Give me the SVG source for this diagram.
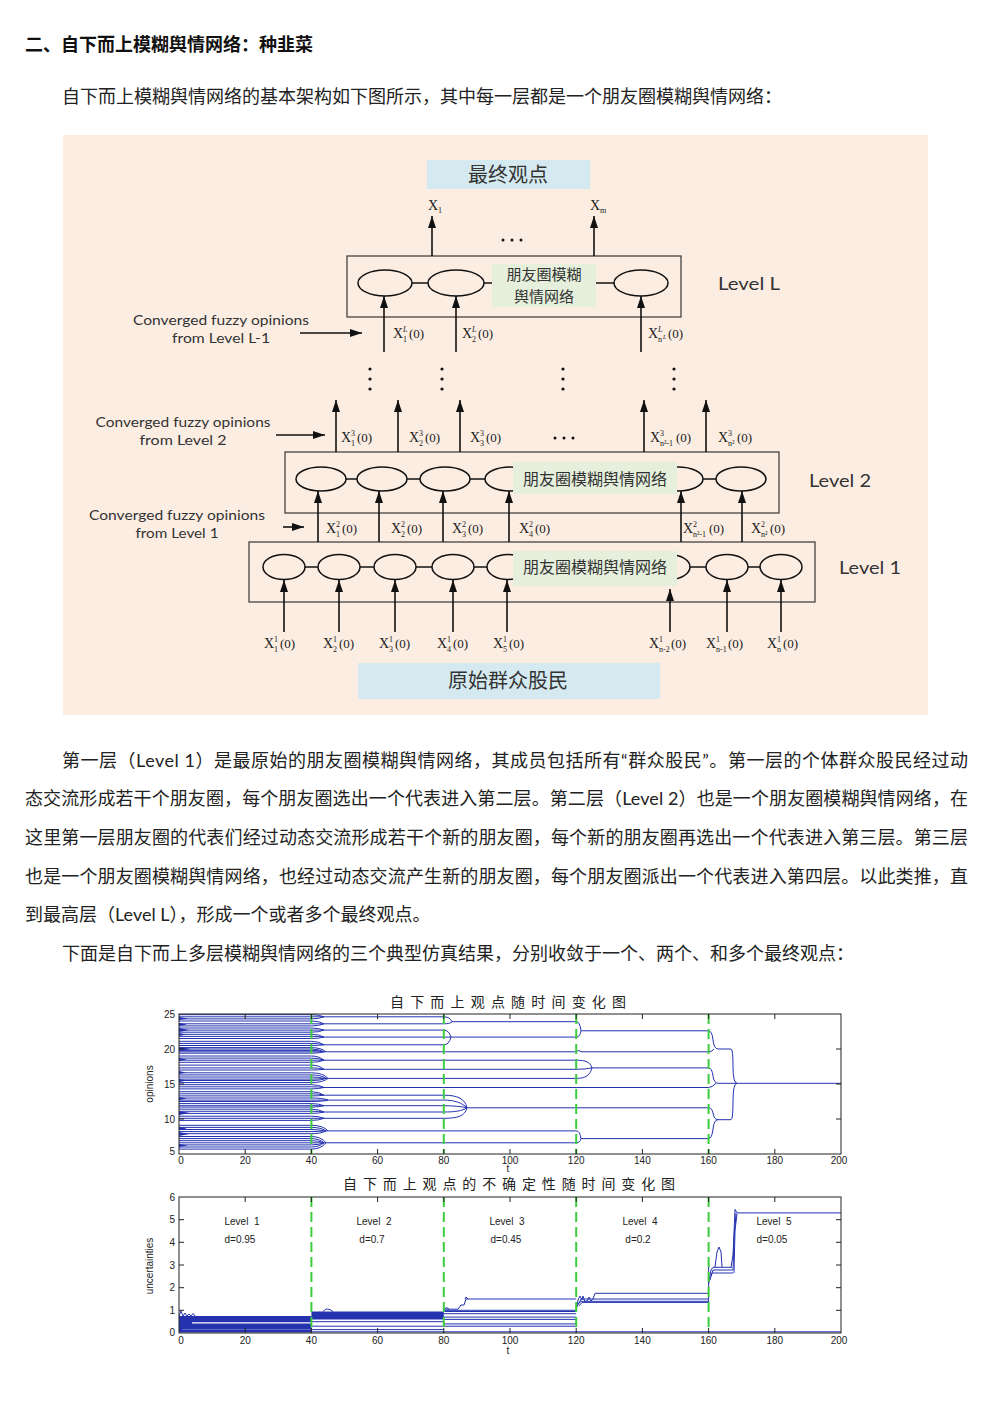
<svg xmlns="http://www.w3.org/2000/svg" width="992" height="1403" viewBox="0 0 992 1403">
<defs>
<style>
.body{font-family:"Lato","Noto Sans CJK SC",sans-serif;font-size:18px;fill:#222}
.title{font-family:"Lato","Noto Sans CJK SC",sans-serif;font-size:18px;font-weight:bold;fill:#111}
.cjk{font-family:"Noto Sans CJK SC",sans-serif;fill:#333}
.lat{font-family:"Lato","Liberation Sans",sans-serif;fill:#333}
.lbl{font-family:"Liberation Serif",serif;fill:#222;font-size:13px}
.lbl .x{font-size:14px}
.lbl .s{font-size:8px}
.lbl .t{font-size:6px}
.box{fill:none;stroke:#444;stroke-width:1.3}
.ell{fill:none;stroke:#111;stroke-width:1.5}
.con{stroke:#111;stroke-width:1.5;fill:none}
.arr{stroke:#111;stroke-width:1.6;fill:none;marker-end:url(#ah)}
.blue{fill:#d5eaf0}
.green{fill:#e5efdc}
.tick{font-family:"Liberation Sans",sans-serif;font-size:10px;fill:#222}
.frame{fill:none;stroke:#222;stroke-width:1}
.tk{stroke:#222;stroke-width:1}
.pl{fill:none;stroke:#2432b0;stroke-width:1}
.gd{stroke:#3ccc3c;stroke-width:2;stroke-dasharray:10,5}
.ctitle{font-family:"Noto Sans CJK SC",sans-serif;font-size:14px;fill:#222}
.lv{font-family:"Liberation Sans",sans-serif;font-size:10px;fill:#222}
</style>
<marker id="ah" viewBox="0 0 12 8" refX="12" refY="4" markerWidth="12" markerHeight="8" markerUnits="userSpaceOnUse" orient="auto">
<path d="M0,0 L12,4 L0,8 z" fill="#111"/>
</marker>
</defs>
<rect x="0" y="0" width="992" height="1403" fill="#ffffff"/>

<!-- Heading and intro -->
<text class="title" x="25" y="51">二、自下而上模糊舆情网络：种韭菜</text>
<text class="body" x="62" y="103">自下而上模糊舆情网络的基本架构如下图所示，其中每一层都是一个朋友圈模糊舆情网络：</text>

<!-- Diagram background -->
<rect x="63" y="135" width="865" height="580" fill="#fcede3"/>

<!-- Final box -->
<g id="final-box">
<rect class="blue" x="427" y="160" width="163" height="29"/>
<text class="cjk" x="508" y="182" font-size="20" text-anchor="middle">最终观点</text>
</g>

<!-- Level L -->
<g id="level-L">
<rect class="box" x="347" y="256" width="334" height="61"/>
<ellipse class="ell" cx="385" cy="283" rx="27" ry="13"/>
<ellipse class="ell" cx="456" cy="283" rx="28" ry="13"/>
<ellipse class="ell" cx="641" cy="283" rx="27" ry="13"/>
<line class="con" x1="412" y1="283" x2="428" y2="283"/>
<line class="con" x1="484" y1="283" x2="492" y2="283"/>
<line class="con" x1="596" y1="283" x2="614" y2="283"/>
<rect class="green" x="492" y="264" width="104" height="43"/>
<text class="cjk" x="544" y="280" font-size="15" text-anchor="middle">朋友圈模糊</text>
<text class="cjk" x="544" y="302" font-size="15" text-anchor="middle">舆情网络</text>
<text class="lat" x="718" y="290" font-size="18" textLength="62" lengthAdjust="spacingAndGlyphs">Level L</text>
</g>

<!-- Level 2 -->
<g id="level-2">
<rect class="box" x="285" y="452" width="494" height="61"/>
<ellipse class="ell" cx="321" cy="479" rx="25" ry="12"/>
<ellipse class="ell" cx="382" cy="479" rx="25" ry="12"/>
<ellipse class="ell" cx="445" cy="479" rx="25" ry="12"/>
<ellipse class="ell" cx="510" cy="479" rx="25" ry="12"/>
<ellipse class="ell" cx="678" cy="479" rx="25" ry="12"/>
<ellipse class="ell" cx="741" cy="479" rx="25" ry="12"/>
<line class="con" x1="346" y1="479" x2="357" y2="479"/>
<line class="con" x1="407" y1="479" x2="420" y2="479"/>
<line class="con" x1="470" y1="479" x2="485" y2="479"/>
<line class="con" x1="703" y1="479" x2="716" y2="479"/>
<rect class="green" x="513" y="462" width="164" height="32"/>
<text class="cjk" x="595" y="485" font-size="16" text-anchor="middle">朋友圈模糊舆情网络</text>
<text class="lat" x="809" y="487" font-size="18" textLength="62" lengthAdjust="spacingAndGlyphs">Level 2</text>
</g>

<!-- Level 1 -->
<g id="level-1">
<rect class="box" x="249" y="542" width="566" height="60"/>
<ellipse class="ell" cx="284" cy="567" rx="21" ry="12.5"/>
<ellipse class="ell" cx="339" cy="567" rx="21" ry="12.5"/>
<ellipse class="ell" cx="395" cy="567" rx="21" ry="12.5"/>
<ellipse class="ell" cx="453" cy="567" rx="21" ry="12.5"/>
<ellipse class="ell" cx="508" cy="567" rx="21" ry="12.5"/>
<ellipse class="ell" cx="669" cy="567" rx="21" ry="12.5"/>
<ellipse class="ell" cx="727" cy="567" rx="21" ry="12.5"/>
<ellipse class="ell" cx="781" cy="567" rx="21" ry="12.5"/>
<line class="con" x1="305" y1="567" x2="318" y2="567"/>
<line class="con" x1="360" y1="567" x2="374" y2="567"/>
<line class="con" x1="416" y1="567" x2="432" y2="567"/>
<line class="con" x1="474" y1="567" x2="487" y2="567"/>
<line class="con" x1="690" y1="567" x2="706" y2="567"/>
<line class="con" x1="748" y1="567" x2="760" y2="567"/>
<rect class="green" x="513" y="551" width="164" height="35"/>
<text class="cjk" x="595" y="573" font-size="16" text-anchor="middle">朋友圈模糊舆情网络</text>
<text class="lat" x="839" y="574" font-size="18" textLength="62" lengthAdjust="spacingAndGlyphs">Level 1</text>
</g>

<!-- Source box -->
<g id="source-box">
<rect class="blue" x="358" y="663" width="302" height="36"/>
<text class="cjk" x="508" y="688" font-size="20" text-anchor="middle">原始群众股民</text>
</g>

<!-- Side notes -->
<g id="notes">
<text class="lat" x="221" y="325" font-size="14" text-anchor="middle" textLength="176" lengthAdjust="spacingAndGlyphs">Converged fuzzy opinions</text>
<text class="lat" x="221" y="343" font-size="14" text-anchor="middle" textLength="98" lengthAdjust="spacingAndGlyphs">from Level L-1</text>
<text class="lat" x="183" y="427" font-size="14" text-anchor="middle" textLength="175" lengthAdjust="spacingAndGlyphs">Converged fuzzy opinions</text>
<text class="lat" x="183" y="445" font-size="14" text-anchor="middle" textLength="87" lengthAdjust="spacingAndGlyphs">from Level 2</text>
<text class="lat" x="177" y="520" font-size="14" text-anchor="middle" textLength="176" lengthAdjust="spacingAndGlyphs">Converged fuzzy opinions</text>
<text class="lat" x="177" y="538" font-size="14" text-anchor="middle" textLength="83" lengthAdjust="spacingAndGlyphs">from Level 1</text>
</g>

<!-- Connectors -->
<g id="connectors">
<line class="arr" x1="432" y1="256" x2="432" y2="216"/>
<line class="arr" x1="594" y1="256" x2="594" y2="216"/>
<line class="arr" x1="384" y1="352" x2="384" y2="296"/>
<line class="arr" x1="456" y1="352" x2="456" y2="296"/>
<line class="arr" x1="641" y1="352" x2="641" y2="296"/>
<line class="arr" x1="300" y1="333" x2="362" y2="333"/>
<line class="arr" x1="336" y1="452" x2="336" y2="400"/>
<line class="arr" x1="398" y1="452" x2="398" y2="400"/>
<line class="arr" x1="460" y1="452" x2="460" y2="400"/>
<line class="arr" x1="644" y1="452" x2="644" y2="400"/>
<line class="arr" x1="706" y1="452" x2="706" y2="400"/>
<line class="arr" x1="276" y1="435" x2="325" y2="435"/>
<line class="arr" x1="318" y1="542" x2="318" y2="491"/>
<line class="arr" x1="379" y1="542" x2="379" y2="491"/>
<line class="arr" x1="443" y1="542" x2="443" y2="491"/>
<line class="arr" x1="509" y1="542" x2="509" y2="491"/>
<line class="arr" x1="681" y1="542" x2="681" y2="491"/>
<line class="arr" x1="742" y1="542" x2="742" y2="491"/>
<line class="arr" x1="283" y1="527" x2="304" y2="527"/>
<line class="arr" x1="284" y1="632" x2="284" y2="580"/>
<line class="arr" x1="339" y1="632" x2="339" y2="580"/>
<line class="arr" x1="395" y1="632" x2="395" y2="580"/>
<line class="arr" x1="453" y1="632" x2="453" y2="580"/>
<line class="arr" x1="507" y1="632" x2="507" y2="580"/>
<line class="arr" x1="670" y1="632" x2="670" y2="589"/>
<line class="arr" x1="727" y1="632" x2="727" y2="580"/>
<line class="arr" x1="781" y1="632" x2="781" y2="580"/>
</g>

<!-- Dots -->
<g id="dots" fill="#111">
<circle cx="370" cy="369" r="1.6"/><circle cx="370" cy="379" r="1.6"/><circle cx="370" cy="389" r="1.6"/>
<circle cx="442" cy="369" r="1.6"/><circle cx="442" cy="379" r="1.6"/><circle cx="442" cy="389" r="1.6"/>
<circle cx="563" cy="369" r="1.6"/><circle cx="563" cy="379" r="1.6"/><circle cx="563" cy="389" r="1.6"/>
<circle cx="674" cy="369" r="1.6"/><circle cx="674" cy="379" r="1.6"/><circle cx="674" cy="389" r="1.6"/>
<circle cx="503" cy="240" r="1.5"/><circle cx="512" cy="240" r="1.5"/><circle cx="521" cy="240" r="1.5"/>
<circle cx="555" cy="438" r="1.5"/><circle cx="564" cy="438" r="1.5"/><circle cx="573" cy="438" r="1.5"/>
</g>

<!-- Variable labels -->
<g id="labels">
<text class="lbl" x="428" y="210"><tspan class="x">X</tspan><tspan class="s" x="438" dy="3">1</tspan></text>
<text class="lbl" x="590" y="210"><tspan class="x">X</tspan><tspan class="s" x="600" dy="3">m</tspan></text>

<text class="lbl" x="393" y="338"><tspan class="x">X</tspan><tspan class="s" x="403" dy="-6" font-style="italic">L</tspan><tspan class="s" x="403" dy="10">1</tspan><tspan x="409" dy="-4">(0)</tspan></text>
<text class="lbl" x="462" y="338"><tspan class="x">X</tspan><tspan class="s" x="472" dy="-6" font-style="italic">L</tspan><tspan class="s" x="472" dy="10">2</tspan><tspan x="478" dy="-4">(0)</tspan></text>
<text class="lbl" x="648" y="338"><tspan class="x">X</tspan><tspan class="s" x="658" dy="-6" font-style="italic">L</tspan><tspan class="s" x="658" dy="10">n</tspan><tspan class="t" x="663" dy="-3" font-style="italic">L</tspan><tspan x="668" dy="-1">(0)</tspan></text>

<text class="lbl" x="341" y="442"><tspan class="x">X</tspan><tspan class="s" x="351" dy="-6">3</tspan><tspan class="s" x="351" dy="10">1</tspan><tspan x="357" dy="-4">(0)</tspan></text>
<text class="lbl" x="409" y="442"><tspan class="x">X</tspan><tspan class="s" x="419" dy="-6">3</tspan><tspan class="s" x="419" dy="10">2</tspan><tspan x="425" dy="-4">(0)</tspan></text>
<text class="lbl" x="470" y="442"><tspan class="x">X</tspan><tspan class="s" x="480" dy="-6">3</tspan><tspan class="s" x="480" dy="10">3</tspan><tspan x="486" dy="-4">(0)</tspan></text>
<text class="lbl" x="650" y="442"><tspan class="x">X</tspan><tspan class="s" x="660" dy="-6">3</tspan><tspan class="s" x="660" dy="10">n²-1</tspan><tspan x="676" dy="-4">(0)</tspan></text>
<text class="lbl" x="718" y="442"><tspan class="x">X</tspan><tspan class="s" x="728" dy="-6">3</tspan><tspan class="s" x="728" dy="10">n²</tspan><tspan x="737" dy="-4">(0)</tspan></text>

<text class="lbl" x="326" y="533"><tspan class="x">X</tspan><tspan class="s" x="336" dy="-6">2</tspan><tspan class="s" x="336" dy="10">1</tspan><tspan x="342" dy="-4">(0)</tspan></text>
<text class="lbl" x="391" y="533"><tspan class="x">X</tspan><tspan class="s" x="401" dy="-6">2</tspan><tspan class="s" x="401" dy="10">2</tspan><tspan x="407" dy="-4">(0)</tspan></text>
<text class="lbl" x="452" y="533"><tspan class="x">X</tspan><tspan class="s" x="462" dy="-6">2</tspan><tspan class="s" x="462" dy="10">3</tspan><tspan x="468" dy="-4">(0)</tspan></text>
<text class="lbl" x="519" y="533"><tspan class="x">X</tspan><tspan class="s" x="529" dy="-6">2</tspan><tspan class="s" x="529" dy="10">4</tspan><tspan x="535" dy="-4">(0)</tspan></text>
<text class="lbl" x="683" y="533"><tspan class="x">X</tspan><tspan class="s" x="693" dy="-6">2</tspan><tspan class="s" x="693" dy="10">n²-1</tspan><tspan x="709" dy="-4">(0)</tspan></text>
<text class="lbl" x="751" y="533"><tspan class="x">X</tspan><tspan class="s" x="761" dy="-6">2</tspan><tspan class="s" x="761" dy="10">n²</tspan><tspan x="770" dy="-4">(0)</tspan></text>

<text class="lbl" x="264" y="648"><tspan class="x">X</tspan><tspan class="s" x="274" dy="-6">1</tspan><tspan class="s" x="274" dy="10">1</tspan><tspan x="280" dy="-4">(0)</tspan></text>
<text class="lbl" x="323" y="648"><tspan class="x">X</tspan><tspan class="s" x="333" dy="-6">1</tspan><tspan class="s" x="333" dy="10">2</tspan><tspan x="339" dy="-4">(0)</tspan></text>
<text class="lbl" x="379" y="648"><tspan class="x">X</tspan><tspan class="s" x="389" dy="-6">1</tspan><tspan class="s" x="389" dy="10">3</tspan><tspan x="395" dy="-4">(0)</tspan></text>
<text class="lbl" x="437" y="648"><tspan class="x">X</tspan><tspan class="s" x="447" dy="-6">1</tspan><tspan class="s" x="447" dy="10">4</tspan><tspan x="453" dy="-4">(0)</tspan></text>
<text class="lbl" x="493" y="648"><tspan class="x">X</tspan><tspan class="s" x="503" dy="-6">1</tspan><tspan class="s" x="503" dy="10">5</tspan><tspan x="509" dy="-4">(0)</tspan></text>
<text class="lbl" x="649" y="648"><tspan class="x">X</tspan><tspan class="s" x="659" dy="-6">1</tspan><tspan class="s" x="659" dy="10">n-2</tspan><tspan x="671" dy="-4">(0)</tspan></text>
<text class="lbl" x="706" y="648"><tspan class="x">X</tspan><tspan class="s" x="716" dy="-6">1</tspan><tspan class="s" x="716" dy="10">n-1</tspan><tspan x="728" dy="-4">(0)</tspan></text>
<text class="lbl" x="767" y="648"><tspan class="x">X</tspan><tspan class="s" x="777" dy="-6">1</tspan><tspan class="s" x="777" dy="10">n</tspan><tspan x="783" dy="-4">(0)</tspan></text>
</g>

<!-- Paragraphs -->
<text class="body" x="62" y="767" textLength="906" lengthAdjust="spacing">第一层（Level 1）是最原始的朋友圈模糊舆情网络，其成员包括所有“群众股民”。第一层的个体群众股民经过动</text>
<text class="body" x="25" y="805" textLength="943" lengthAdjust="spacing">态交流形成若干个朋友圈，每个朋友圈选出一个代表进入第二层。第二层（Level 2）也是一个朋友圈模糊舆情网络，在</text>
<text class="body" x="25" y="844" textLength="943" lengthAdjust="spacing">这里第一层朋友圈的代表们经过动态交流形成若干个新的朋友圈，每个新的朋友圈再选出一个代表进入第三层。第三层</text>
<text class="body" x="25" y="883" textLength="943" lengthAdjust="spacing">也是一个朋友圈模糊舆情网络，也经过动态交流产生新的朋友圈，每个朋友圈派出一个代表进入第四层。以此类推，直</text>
<text class="body" x="25" y="921">到最高层（Level L），形成一个或者多个最终观点。</text>
<text class="body" x="62" y="960">下面是自下而上多层模糊舆情网络的三个典型仿真结果，分别收敛于一个、两个、和多个最终观点：</text>

<!-- Chart 1 -->
<g id="chart-opinions">
<text class="ctitle" x="390" y="1007" textLength="236" lengthAdjust="spacing">自下而上观点随时间变化图</text>
<g class="pl">
<path d="M179,1014.7H311.4Q319,1014.7 324,1016.8M179,1016.8H324M179,1018.9H311.4Q319,1018.9 324,1016.8
M179,1021H311.4Q319,1021 324,1023.8M179,1023.8H324M179,1025.9H311.4Q319,1025.9 324,1023.8
M179,1028H311.4Q319,1028 324,1030.1M179,1030.1H324M179,1032.2H311.4Q319,1032.2 324,1030.1
M179,1034.3H311.4Q319,1034.3 324,1037.1M179,1036.4H311.4Q319,1036.4 324,1037.1M179,1038.5H311.4Q319,1038.5 324,1037.1
M179,1041.3H311.4Q319,1041.3 324,1044.8M179,1043.4H311.4Q319,1043.4 324,1044.8M179,1045.5H311.4Q319,1045.5 324,1044.8
M179,1047.6H311.4Q321,1047.6 326,1051.8M179,1049H311.4Q319,1049 324,1051.8M179,1050.4H311.4Q319,1050.4 324,1051.8M179,1051.8H324M179,1053.2H311.4Q319,1053.2 324,1051.8
M179,1056H311.4Q319,1056 324,1060.2M179,1058.1H311.4Q319,1058.1 324,1060.2M179,1060.2H324M179,1062.3H311.4Q319,1062.3 324,1060.2
M179,1065.1H311.4Q319,1065.1 324,1069.3M179,1067.9H311.4Q319,1067.9 324,1069.3M179,1070H311.4Q319,1070 324,1069.3
M179,1072.8H311.4Q323,1072.8 328,1078.4M179,1074.9H311.4Q321,1074.9 326,1078.4M179,1077H311.4Q319,1077 324,1078.4M179,1079.1H311.4Q319,1079.1 324,1078.4M179,1080.5H311.4Q321,1080.5 326,1078.4M179,1082.6H311.4Q323,1082.6 328,1078.4
M179,1084.7H311.4Q319,1084.7 324,1087.5M179,1086.8H311.4Q319,1086.8 324,1087.5M179,1088.9H311.4Q319,1088.9 324,1087.5
M179,1091.7H311.4Q319,1091.7 324,1095.2M179,1093.8H311.4Q319,1093.8 324,1095.2M179,1095.9H311.4Q319,1095.9 324,1095.2
M179,1098H311.4Q323,1098 328,1100.1M179,1100.1H324M179,1101.5H311.4Q323,1101.5 328,1100.1
M179,1103.6H311.4Q319,1103.6 324,1105.7M179,1105.7H324M179,1107.1H311.4Q319,1107.1 324,1105.7
M179,1109.2H311.4Q319,1109.2 324,1112M179,1111.3H311.4Q319,1111.3 324,1112M179,1113.4H311.4Q319,1113.4 324,1112
M179,1116.2H311.4Q319,1116.2 324,1118.3M179,1118.3H324M179,1120.4H311.4Q319,1120.4 324,1118.3
M179,1125.3H311.4Q323,1125.3 328,1130.9M179,1127.4H311.4Q321,1127.4 326,1130.9M179,1129.5H311.4Q319,1129.5 324,1130.9M179,1131.6H311.4Q319,1131.6 324,1130.9M179,1133.7H311.4Q321,1133.7 326,1130.9
M179,1136.5H311.4Q321,1136.5 326,1142.8M179,1138.6H311.4Q319,1138.6 324,1142.8M179,1140.7H311.4Q319,1140.7 324,1142.8M179,1142.8H324M179,1144.9H311.4Q319,1144.9 324,1142.8M179,1147H311.4Q319,1147 324,1142.8M179,1149.1H311.4Q321,1149.1 326,1142.8"/>
<path d="M324,1016.8H443.8M324,1023.8H443.8M324,1030.1H443.8M324,1037.1H443.8M324,1044.8H443.8M324,1051.8H443.8M324,1060.2H443.8M324,1069.3H443.8M324,1078.4H443.8M324,1087.5H443.8M324,1095.2H443.8M324,1100.1H443.8M324,1105.7H443.8M324,1112H443.8M324,1118.3H443.8M324,1130.9H443.8M324,1142.8H443.8"/>
<path d="M443.8,1016.8Q450,1016.8 452,1021.7M443.8,1023.8Q450,1023.8 452,1021.7M452,1021.7H576.2
M443.8,1030.1Q449,1030.1 451,1037.1M443.8,1044.8Q449,1044.8 451,1037.1M443.8,1037.1H576.2
M443.8,1051.8H576.2M443.8,1060.2H576.2M443.8,1069.3H576.2M443.8,1078.4H576.2M443.8,1087.5H576.2
M443.8,1095.2C458,1095.2 465,1099 467,1107.8M443.8,1118.3C458,1118.3 465,1116 467,1107.8M443.8,1100.1C455,1100.1 462,1103 467,1107.8M443.8,1105.7Q458,1105.7 467,1107.8M443.8,1112C455,1112 462,1111 467,1107.8M467,1107.8H576.2
M443.8,1130.9H576.2M443.8,1142.8H576.2"/>
<path d="M576.2,1021.7Q580,1021.7 581,1030.8M576.2,1037.1Q580,1037.1 581,1030.8M581,1030.8H708.6
M576.2,1051.8Q579,1049 581,1051.8H708.6
M576.2,1060.2C586,1060.2 590,1062 592,1067.9M576.2,1078.4C586,1078.4 590,1075 592,1067.9M576.2,1069.3Q586,1069.3 592,1067.9M592,1067.9H708.6
M576.2,1087.5H708.6M576.2,1107.8H708.6
M576.2,1130.9Q580,1130.9 581,1138.6M576.2,1142.8Q580,1142.8 581,1138.6M581,1138.6H708.6"/>
<path d="M708.6,1030.8Q712,1030.8 713,1040Q714,1049 718,1049H731Q733,1049 733,1066Q733,1083.3 737,1083.3H841
M708.6,1051.8Q712,1051.8 714,1049
M708.6,1067.9Q712,1067.9 713,1076Q714,1083.3 718,1083.3H737
M708.6,1087.5Q712,1087.5 716,1083.3
M708.6,1107.8Q712,1107.8 713,1113Q714,1119.7 718,1119.7H731Q733,1119.7 733,1101Q733,1083.3 737,1083.3
M708.6,1138.6Q712,1138.6 713,1129Q714,1119.7 718,1119.7"/>
</g>
<g fill="#2432b0">
<path d="M179,1017l9,1.5l-9,1.5z M179,1023l8,1.5l-8,1.5z M179,1028l10,2l-10,2z M179,1033l7,1.5l-7,1.5z M179,1047l12,2l-12,2z M179,1058l8,1.5l-8,1.5z M179,1071l7,1.5l-7,1.5z M179,1079l9,1.5l-9,1.5z M179,1097l8,1.5l-8,1.5z M179,1111l11,2l-11,2z M179,1127l8,1.5l-8,1.5z M179,1132l10,2l-10,2z M179,1144l9,1.5l-9,1.5z"/>
</g>
<g>
<line class="gd" x1="311.4" y1="1014" x2="311.4" y2="1154"/>
<line class="gd" x1="443.8" y1="1014" x2="443.8" y2="1154"/>
<line class="gd" x1="576.2" y1="1014" x2="576.2" y2="1154"/>
<line class="gd" x1="708.6" y1="1014" x2="708.6" y2="1154"/>
</g>
<rect class="frame" x="179" y="1014" width="662" height="140"/>
<path class="tk" d="M245.2,1154v-5M311.4,1154v-5M377.6,1154v-5M443.8,1154v-5M510,1154v-5M576.2,1154v-5M642.4,1154v-5M708.6,1154v-5M774.8,1154v-5
M245.2,1014v5M311.4,1014v5M377.6,1014v5M443.8,1014v5M510,1014v5M576.2,1014v5M642.4,1014v5M708.6,1014v5M774.8,1014v5
M179,1049h5M179,1084h5M179,1119h5M841,1049h-5M841,1084h-5M841,1119h-5"/>
<g class="tick" text-anchor="end">
<text x="175" y="1018">25</text><text x="175" y="1053">20</text><text x="175" y="1088">15</text><text x="175" y="1123">10</text><text x="175" y="1155">5</text>
</g>
<g class="tick" text-anchor="middle">
<text x="181" y="1164">0</text><text x="245.2" y="1164">20</text><text x="311.4" y="1164">40</text><text x="377.6" y="1164">60</text><text x="443.8" y="1164">80</text><text x="510" y="1164">100</text><text x="576.2" y="1164">120</text><text x="642.4" y="1164">140</text><text x="708.6" y="1164">160</text><text x="774.8" y="1164">180</text><text x="839" y="1164">200</text>
<text x="508" y="1172">t</text>
<text x="0" y="0" transform="translate(153 1084) rotate(-90)">opinions</text>
</g>
</g>

<!-- Chart 2 -->
<g id="chart-uncertainty">
<text class="ctitle" x="343" y="1189" textLength="332" lengthAdjust="spacing">自下而上观点的不确定性随时间变化图</text>
<rect x="179" y="1316" width="132.4" height="16.5" fill="#2432b0"/>
<line x1="192" y1="1322.8" x2="311" y2="1322.8" stroke="#ffffff" stroke-width="1.2"/>
<line x1="182" y1="1329.5" x2="311" y2="1329.5" stroke="#6f7bd0" stroke-width="0.8"/>
<rect x="311.4" y="1311.5" width="132.4" height="8" fill="#2432b0"/>
<g class="pl">
<path d="M179,1316L181,1311L183,1316L185,1313L187,1316L189,1314L191,1316L193,1313.5L195,1316"/>
<path d="M311.4,1318L316,1314L320,1312M323,1311.5L326,1309L330,1309.5L333,1311.5M311.4,1321.7H443.8M311.4,1326.2H443.8M311.4,1329.6H443.8"/>
<path d="M443.8,1309.2H458L461,1305L464,1305L466,1299H576.2M465,1299L466,1297L468,1299M444,1310L446,1307.5L449,1309
M443.8,1310.3H576.2M443.8,1311.5H576.2M443.8,1313.7H576.2M443.8,1317.1H576.2M443.8,1319.4H576.2M443.8,1323.9H576.2M443.8,1326.2H576.2"/>
<path d="M576.2,1310L578,1300L580,1296L582,1300L583,1296L585,1302L587,1301L589,1297L591,1301L593,1299L595,1293.3H708.6
M576.2,1308L579,1303L581,1299H708.6M578,1304L581,1301.3H708.6M579,1306L582,1302.4H708.6"/>
<path d="M708.6,1303V1258M708.6,1284L711,1270L713,1267.3H732M710,1280L712,1273H733M711,1276L713,1270H733
M715,1267L717,1252L719,1247L721,1252L722,1267M731,1267L733,1255L735,1209.4L737,1212.9H841M733,1270L734,1240L736,1213M734,1273L735,1230L737,1214"/>
<path d="M311.4,1331.8H841"/>
</g>
<g>
<line class="gd" x1="311.4" y1="1197" x2="311.4" y2="1333"/>
<line class="gd" x1="443.8" y1="1197" x2="443.8" y2="1333"/>
<line class="gd" x1="576.2" y1="1197" x2="576.2" y2="1333"/>
<line class="gd" x1="708.6" y1="1197" x2="708.6" y2="1333"/>
</g>
<rect class="frame" x="179" y="1197" width="662" height="136"/>
<path class="tk" d="M245.2,1333v-5M311.4,1333v-5M377.6,1333v-5M443.8,1333v-5M510,1333v-5M576.2,1333v-5M642.4,1333v-5M708.6,1333v-5M774.8,1333v-5
M245.2,1197v5M311.4,1197v5M377.6,1197v5M443.8,1197v5M510,1197v5M576.2,1197v5M642.4,1197v5M708.6,1197v5M774.8,1197v5
M179,1219.7h5M179,1242.3h5M179,1265h5M179,1287.7h5M179,1310.3h5M841,1219.7h-5M841,1242.3h-5M841,1265h-5M841,1287.7h-5M841,1310.3h-5"/>
<g class="tick" text-anchor="end">
<text x="175" y="1201">6</text><text x="175" y="1223">5</text><text x="175" y="1246">4</text><text x="175" y="1269">3</text><text x="175" y="1291">2</text><text x="175" y="1314">1</text><text x="175" y="1336">0</text>
</g>
<g class="tick" text-anchor="middle">
<text x="181" y="1344">0</text><text x="245.2" y="1344">20</text><text x="311.4" y="1344">40</text><text x="377.6" y="1344">60</text><text x="443.8" y="1344">80</text><text x="510" y="1344">100</text><text x="576.2" y="1344">120</text><text x="642.4" y="1344">140</text><text x="708.6" y="1344">160</text><text x="774.8" y="1344">180</text><text x="839" y="1344">200</text>
<text x="508" y="1354">t</text>
<text x="0" y="0" transform="translate(153 1266) rotate(-90)">uncertainties</text>
</g>
<g class="lv" text-anchor="middle">
<text x="242" y="1225" xml:space="preserve">Level  1</text><text x="240" y="1243">d=0.95</text>
<text x="374" y="1225" xml:space="preserve">Level  2</text><text x="372" y="1243">d=0.7</text>
<text x="507" y="1225" xml:space="preserve">Level  3</text><text x="506" y="1243">d=0.45</text>
<text x="640" y="1225" xml:space="preserve">Level  4</text><text x="638" y="1243">d=0.2</text>
<text x="774" y="1225" xml:space="preserve">Level  5</text><text x="772" y="1243">d=0.05</text>
</g>
</g>
</svg>
